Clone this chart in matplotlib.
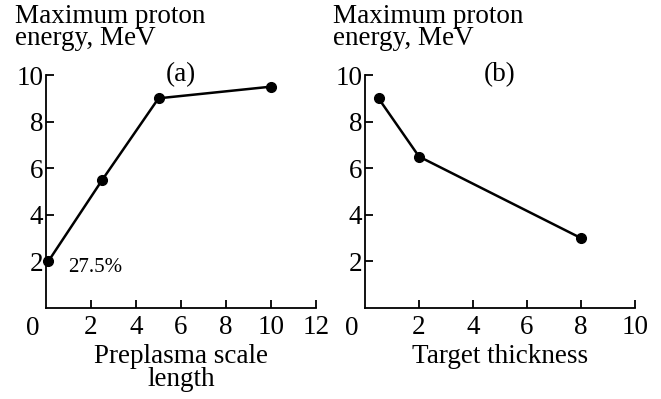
import matplotlib.pyplot as plt

plt.rcParams['font.family'] = 'Liberation Serif'

# panel (a): proton energy vs preplasma scale length
scale_length = [0.1, 2.5, 5.0, 10.0]
energy_a = [2.0, 5.5, 9.0, 9.5]

# panel (b): proton energy vs target thickness
thickness = [0.5, 2.0, 8.0]
energy_b = [9.0, 6.5, 3.0]

FS = 19.5

fig = plt.figure(figsize=(6.61, 3.99), dpi=100)
ax1 = fig.add_axes([0.0696, 0.228, 0.4085, 0.584])
ax2 = fig.add_axes([0.5522, 0.228, 0.4085, 0.584])


def style_axis(ax, xmax, xticks):
    ax.set_xlim(0, xmax)
    ax.set_ylim(0, 10)
    for s in ['top', 'right']:
        ax.spines[s].set_visible(False)
    for s in ['left', 'bottom']:
        ax.spines[s].set_linewidth(1.3)
    ax.set_xticks(xticks)
    ax.set_yticks([2, 4, 6, 8, 10])
    ax.tick_params(direction='in', length=6, width=1.3, labelsize=FS)
    ax.tick_params(axis='x', pad=5)
    ax.tick_params(axis='y', pad=2)
    # the shared zero sits in the corner
    ax.text(-0.048, -0.035, '0', transform=ax.transAxes, ha='center', va='top',
            fontsize=FS)


ax1.plot(scale_length, energy_a, color='black', lw=1.8, marker='o', ms=7,
         clip_on=False, zorder=5)
style_axis(ax1, 12, [2, 4, 6, 8, 10, 12])
ax1.text(6, 10, '(a)', ha='center', va='center', fontsize=FS)
ax1.text(1.0, 1.75, '27.5%', ha='left', va='center', fontsize=15)
ax1.set_xlabel('Preplasma scale\nlength', fontsize=FS, labelpad=3, linespacing=0.9)

ax2.plot(thickness, energy_b, color='black', lw=1.8, marker='o', ms=7,
         clip_on=False, zorder=5)
style_axis(ax2, 10, [2, 4, 6, 8, 10])
ax2.text(5, 10, '(b)', ha='center', va='center', fontsize=FS)
ax2.set_xlabel('Target thickness', fontsize=FS, labelpad=3)

fig.text(0.022, 0.99, 'Maximum proton\nenergy, MeV', ha='left', va='top',
         fontsize=FS, linespacing=0.85)
fig.text(0.504, 0.99, 'Maximum proton\nenergy, MeV', ha='left', va='top',
         fontsize=FS, linespacing=0.85)

fig.savefig('out.png', dpi=100)
